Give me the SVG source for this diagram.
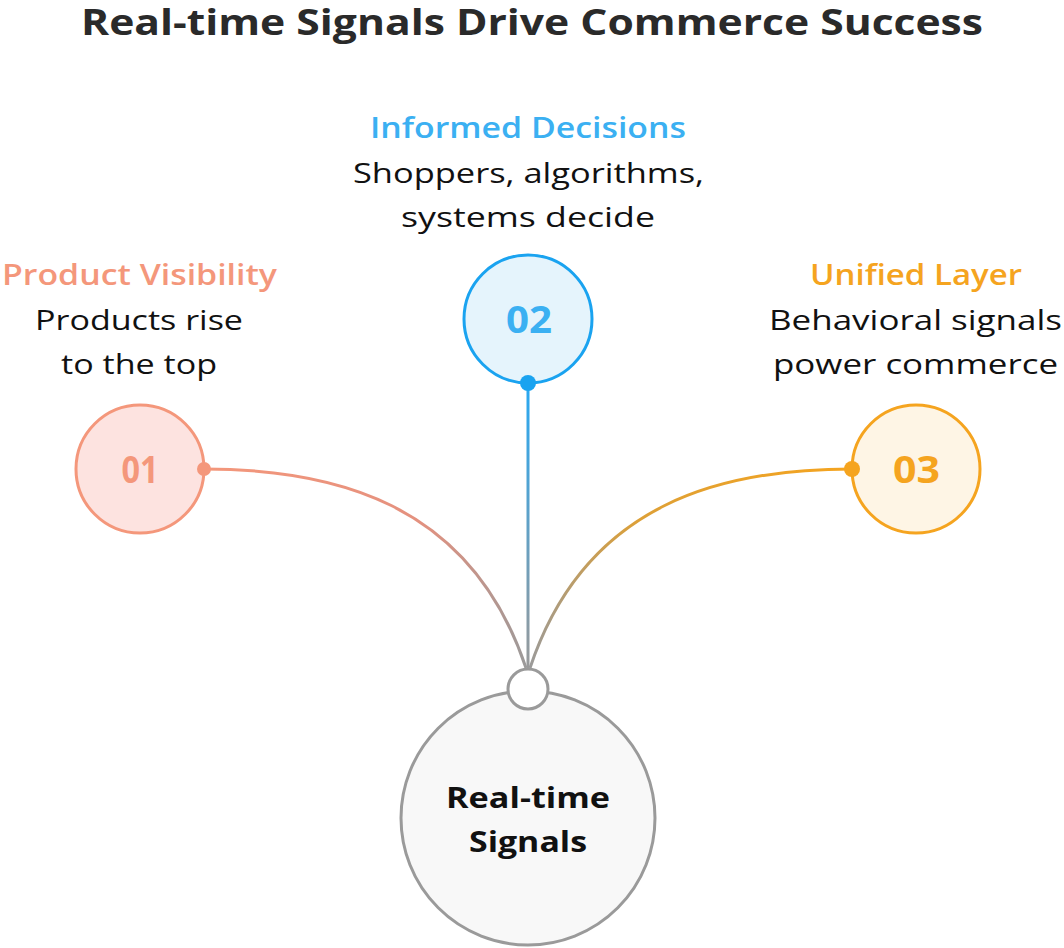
<svg xmlns="http://www.w3.org/2000/svg" width="1064" height="948" viewBox="0 0 1064 948">
<defs>
<linearGradient id="g1" gradientUnits="userSpaceOnUse" x1="204" y1="469" x2="526" y2="668">
<stop offset="0" stop-color="#F4977B"/><stop offset="0.55" stop-color="#E4917F"/><stop offset="1" stop-color="#9A9A9A"/>
</linearGradient>
<linearGradient id="g2" gradientUnits="userSpaceOnUse" x1="528" y1="383" x2="528" y2="668">
<stop offset="0" stop-color="#28A8F2"/><stop offset="1" stop-color="#9A9A9A"/>
</linearGradient>
<linearGradient id="g3" gradientUnits="userSpaceOnUse" x1="852" y1="469" x2="530" y2="668">
<stop offset="0" stop-color="#F5A41F"/><stop offset="0.55" stop-color="#DDA037"/><stop offset="1" stop-color="#9A9A9A"/>
</linearGradient>
<style>
text{font-family:"Open Sans","Liberation Sans",sans-serif;text-anchor:middle}
.title{font-size:35px;font-weight:700;fill:#2a2a2a}
.head{font-size:28px;font-weight:600}
.body{font-size:28px;font-weight:400;fill:#111}
.num{font-size:38px;font-weight:700}
.center{font-size:28px;font-weight:700;fill:#111}
.conn{fill:none;stroke-width:3}
</style>
</defs>
<rect width="1064" height="948" fill="#ffffff"/>
<text class="title" x="532" y="35" textLength="902" lengthAdjust="spacingAndGlyphs">Real-time Signals Drive Commerce Success</text>

<g id="connectors">
<path class="conn" stroke="url(#g1)" d="M204 469 C330 469 470 500 526 668"/>
<path class="conn" stroke="url(#g2)" d="M528 383 L528 668"/>
<path class="conn" stroke="url(#g3)" d="M852 469 C726 469 586 500 530 668"/>
</g>

<g id="node-center">
<circle cx="528" cy="818" r="127" fill="#F8F8F8" stroke="#9A9A9A" stroke-width="3"/>
<circle cx="528" cy="689" r="20" fill="#FFFFFF" stroke="#9A9A9A" stroke-width="3"/>
<text class="center" x="528" y="808" textLength="164" lengthAdjust="spacingAndGlyphs">Real-time</text>
<text class="center" x="528" y="852" textLength="118" lengthAdjust="spacingAndGlyphs">Signals</text>
</g>

<g id="node-01">
<circle cx="140" cy="469" r="64" fill="#FDE3E0" stroke="#F4977B" stroke-width="3"/>
<circle cx="204" cy="469" r="7" fill="#F4977B"/>
<text class="num" x="140" y="483" fill="#F4977B" textLength="37" lengthAdjust="spacingAndGlyphs">01</text>
<text class="head" x="139.5" y="285" fill="#F4977B" textLength="275" lengthAdjust="spacingAndGlyphs">Product Visibility</text>
<text class="body" x="139" y="330" textLength="208" lengthAdjust="spacingAndGlyphs">Products rise</text>
<text class="body" x="139" y="374" textLength="156" lengthAdjust="spacingAndGlyphs">to the top</text>
</g>

<g id="node-02">
<circle cx="528" cy="319" r="64" fill="#E5F4FC" stroke="#1AA3F0" stroke-width="3"/>
<circle cx="528" cy="383" r="8" fill="#1AA3F0"/>
<text class="num" x="529" y="333" fill="#3BB0F2" textLength="46" lengthAdjust="spacingAndGlyphs">02</text>
<text class="head" x="528" y="138" fill="#3BB0F2" textLength="316" lengthAdjust="spacingAndGlyphs">Informed Decisions</text>
<text class="body" x="528.5" y="183" textLength="351" lengthAdjust="spacingAndGlyphs">Shoppers, algorithms,</text>
<text class="body" x="528" y="227" textLength="254" lengthAdjust="spacingAndGlyphs">systems decide</text>
</g>

<g id="node-03">
<circle cx="916" cy="469" r="64" fill="#FEF5E5" stroke="#F5A41F" stroke-width="3"/>
<circle cx="852" cy="469" r="8" fill="#F5A41F"/>
<text class="num" x="916.5" y="483" fill="#F5A41F" textLength="47" lengthAdjust="spacingAndGlyphs">03</text>
<text class="head" x="916" y="285" fill="#F5A41F" textLength="212" lengthAdjust="spacingAndGlyphs">Unified Layer</text>
<text class="body" x="915.5" y="330" textLength="293" lengthAdjust="spacingAndGlyphs">Behavioral signals</text>
<text class="body" x="915.5" y="374" textLength="285" lengthAdjust="spacingAndGlyphs">power commerce</text>
</g>
</svg>
